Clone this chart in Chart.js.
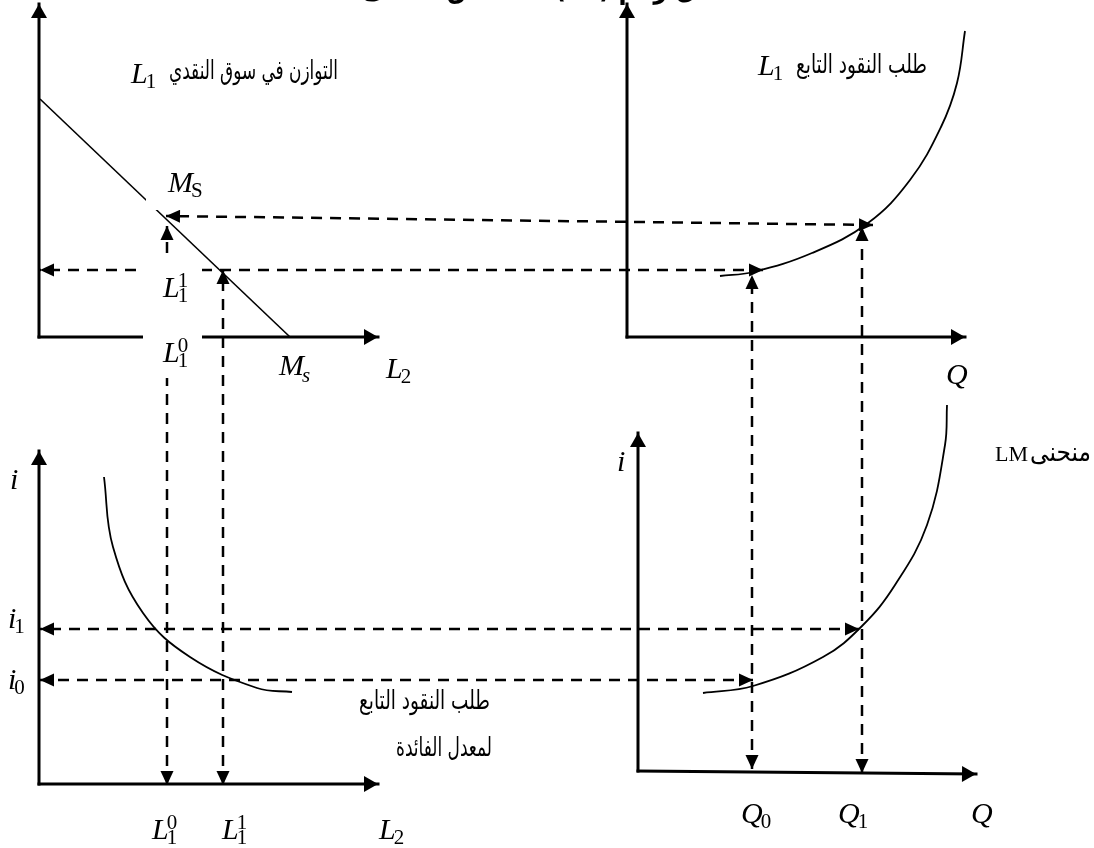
<!DOCTYPE html>
<html lang="ar">
<head>
<meta charset="utf-8">
<script src="https://cdn.jsdelivr.net/npm/chart.js@4.4.1/dist/chart.umd.min.js"></script>
<style>
  html, body { margin: 0; padding: 0; background: #fff; }
  #wrap { width: 1094px; height: 848px; position: relative; }
</style>
</head>
<body>
<div id="wrap"><canvas id="chart"></canvas></div>
<script>
// diagram units: x to the right, y downwards, same size as the picture
const msLineX = [40, 290];
const msLineY = [99, 337];

const l1CurveX = [720, 753, 812, 868, 910, 941, 957, 965];
const l1CurveY = [276, 272, 253, 223, 180, 127, 83, 31];

const l2CurveX = [104, 113, 143, 190, 257, 292];
const l2CurveY = [477, 547, 613, 657, 688, 692];

const lmCurveX = [703, 753, 823, 862, 895, 927, 945, 947];
const lmCurveY = [693, 686, 657, 626, 585, 525, 445, 405];

// axes (start -> arrow tip)
const axisStarts = [[39, 337], [39, 337], [627, 337], [627, 337], [39, 784], [39, 784], [638, 771], [638, 771]];
const axisEnds = [[39, 4], [378, 337], [627, 4], [965, 337], [39, 451], [378, 784], [638, 433], [976, 774]];

// dashed guides, arrow at both ends
const guideStarts = [[873, 225], [763, 270], [167, 785], [223, 785], [752, 769], [862, 773], [859, 629], [753, 680]];
const guideEnds = [[166, 216], [40, 270], [167, 226], [223, 270], [752, 275], [862, 227], [40, 629], [40, 680]];

// white boxes behind labels (x0, y0, x1, y1)
const maskBoxes = [[143, 257, 202, 378], [146, 160, 210, 210]];

// main letter, subscript, superscript, italic subscript
const mathLabels = [
  ['L', '1', '', false, 131, 83],
  ['M', 'S', '', false, 168, 192],
  ['L', '1', '1', false, 163, 297],
  ['L', '1', '0', false, 163, 362],
  ['M', 's', '', true, 279, 375],
  ['L', '2', '', false, 386, 378],
  ['L', '1', '', false, 758, 75],
  ['Q', '', '', false, 946, 384],
  ['i', '', '', false, 10, 489],
  ['i', '1', '', false, 8, 628],
  ['i', '0', '', false, 8, 689],
  ['L', '1', '0', false, 152, 839],
  ['L', '1', '1', false, 222, 839],
  ['L', '2', '', false, 379, 839],
  ['i', '', '', false, 617, 471],
  ['Q', '0', '', false, 741, 823],
  ['Q', '1', '', false, 838, 823],
  ['Q', '', '', false, 971, 823]
];

// arabic text, left, right, middle y
const arabicLabels = [
  ['التوازن في سوق النقدي', 169, 338, 72],
  ['طلب النقود التابع', 796, 927, 66],
  ['طلب النقود التابع', 359, 490, 702],
  ['لمعدل الفائدة', 396, 492, 749],
  ['منحنى', 1030, 1091, 454]
];

const pts = (xs, ys) => xs.map((v, i) => ({x: v, y: ys[i]}));

function drawHead(c, tip, from, len, half) {
  const a = Math.atan2(tip.y - from.y, tip.x - from.x);
  const bx = tip.x - len * Math.cos(a), by = tip.y - len * Math.sin(a);
  c.beginPath();
  c.moveTo(tip.x, tip.y);
  c.lineTo(bx + half * Math.sin(a), by - half * Math.cos(a));
  c.lineTo(bx - half * Math.sin(a), by + half * Math.cos(a));
  c.closePath();
  c.fill();
}

const serif = '"Liberation Serif", "DejaVu Serif", serif';

const diagram = {
  id: 'diagram',
  beforeDraw(chart) {
    const c = chart.ctx;
    c.save();
    c.fillStyle = '#fff';
    c.fillRect(0, 0, chart.width, chart.height);
    c.restore();
  },
  afterDatasetsDraw(chart) {
    const c = chart.ctx;
    const sx = chart.scales.x, sy = chart.scales.y;
    c.save();
    c.fillStyle = '#000';
    chart.data.datasets.forEach((ds, i) => {
      if (!ds.heads) return;
      const el = chart.getDatasetMeta(i).data;
      drawHead(c, el[el.length - 1], el[el.length - 2], ds.headLen, ds.headHalf);
      if (ds.heads === 'both') drawHead(c, el[0], el[1], ds.headLen, ds.headHalf);
    });

    c.fillStyle = '#fff';
    maskBoxes.forEach(([x0, y0, x1, y1]) => {
      const px = sx.getPixelForValue(x0), py = sy.getPixelForValue(y0);
      c.fillRect(px, py, sx.getPixelForValue(x1) - px, sy.getPixelForValue(y1) - py);
    });

    c.fillStyle = '#000';
    c.textAlign = 'left';
    c.textBaseline = 'alphabetic';
    mathLabels.forEach(([m, sub, sup, subIt, x, y]) => {
      const px = sx.getPixelForValue(x), py = sy.getPixelForValue(y);
      c.font = 'italic 30px ' + serif;
      c.fillText(m, px, py);
      const w = c.measureText(m).width - 2;
      if (sup) {
        c.font = '21px ' + serif;
        c.fillText(sup, px + w, py - 10);
      }
      if (sub) {
        c.font = (subIt ? 'italic ' : '') + '21px ' + serif;
        c.fillText(sub, px + w, py + (subIt ? 7 : 5));
      }
    });

    c.font = '22px ' + serif;
    c.fillText('LM', sx.getPixelForValue(995), sy.getPixelForValue(461));

    // arabic: keep the height, squeeze to the measured width
    c.direction = 'rtl';
    c.textAlign = 'right';
    c.textBaseline = 'middle';
    arabicLabels.forEach(([t, x0, x1, y]) => {
      c.font = '26px "DejaVu Sans"';
      const target = sx.getPixelForValue(x1) - sx.getPixelForValue(x0);
      const k = target / c.measureText(t).width;
      c.save();
      c.translate(sx.getPixelForValue(x1), sy.getPixelForValue(y));
      c.scale(k, 1);
      c.fillText(t, 0, 0);
      c.restore();
    });

    // title, cut by the top edge
    c.textBaseline = 'alphabetic';
    c.font = 'bold 28px "DejaVu Sans"';
    const title = 'شكل رقم (02): اشتقاق منحنى';
    const kt = 373 / c.measureText(title).width;
    c.translate(sx.getPixelForValue(735), sy.getPixelForValue(-2));
    c.scale(kt, 1);
    c.fillText(title, 0, 0);
    c.restore();
  }
};

const datasets = [];
axisStarts.forEach((s, i) => {
  datasets.push({
    data: pts([s[0], axisEnds[i][0]], [s[1], axisEnds[i][1]]),
    borderWidth: 3, borderCapStyle: 'square', heads: 'end', headLen: 14, headHalf: 8
  });
});
guideStarts.forEach((s, i) => {
  datasets.push({
    data: pts([s[0], guideEnds[i][0]], [s[1], guideEnds[i][1]]),
    borderWidth: 2.5, borderDash: [11, 8], heads: 'both', headLen: 14, headHalf: 6.5
  });
});
datasets.push({data: pts(msLineX, msLineY), borderWidth: 1.6});
[[l1CurveX, l1CurveY], [l2CurveX, l2CurveY], [lmCurveX, lmCurveY]].forEach(([xs, ys]) => {
  datasets.push({data: pts(xs, ys), borderWidth: 1.8, tension: 0.4});
});
datasets.forEach(d => Object.assign(d, {
  showLine: true, pointRadius: 0, borderColor: '#000', backgroundColor: '#000', fill: false, clip: false
}));

new Chart(document.getElementById('chart'), {
  type: 'scatter',
  data: {datasets},
  options: {
    responsive: true,
    maintainAspectRatio: false,
    animation: false,
    events: [],
    layout: {padding: 0},
    plugins: {legend: {display: false}, tooltip: {enabled: false}},
    scales: {
      x: {type: 'linear', min: 0, max: 1094, display: false},
      y: {type: 'linear', min: 0, max: 848, reverse: true, display: false}
    }
  },
  plugins: [diagram]
});
</script>
</body>
</html>
